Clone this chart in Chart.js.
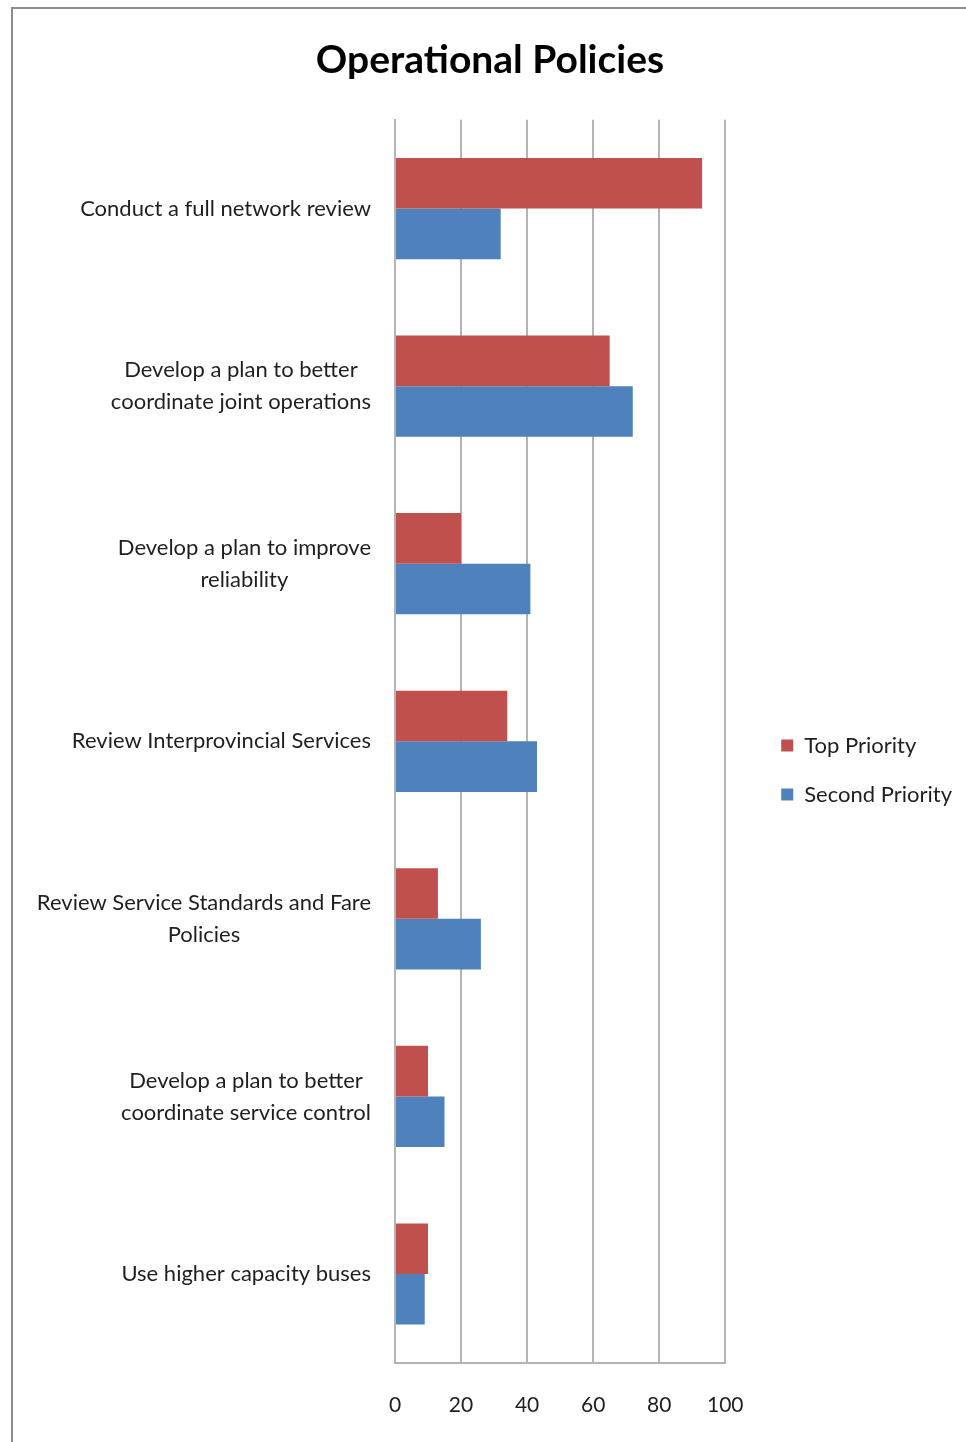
<!DOCTYPE html>
<html>
<head>
<meta charset="utf-8">
<title>Operational Policies</title>
<script src="https://cdn.jsdelivr.net/npm/chart.js@4/dist/chart.umd.min.js"></script>
<style>
  html, body { margin: 0; padding: 0; background: #ffffff; overflow: hidden; }
  #wrap { position: relative; width: 966px; height: 1442px; }
  #frame {
    position: absolute; left: 11px; top: 7px; width: 1000px; height: 1500px;
    border-left: 2px solid #8c8c8c; border-top: 2px solid #8c8c8c; box-sizing: border-box;
  }
  #chart { position: absolute; left: 0; top: 0; }
</style>
</head>
<body>
<div id="wrap">
  <div id="frame"></div>
  <canvas id="chart" width="966" height="1442"></canvas>
</div>
<script>
// Category labels (each entry is the list of lines shown for that row)
const categories = [
  ['Conduct a full network review'],
  ['Develop a plan to better', 'coordinate joint operations'],
  ['Develop a plan to improve', 'reliability'],
  ['Review Interprovincial Services'],
  ['Review Service Standards and Fare', 'Policies'],
  ['Develop a plan to better', 'coordinate service control'],
  ['Use higher capacity buses']
];
const seriesNames = ['Top Priority', 'Second Priority'];
const topPriority = [93, 65, 20, 34, 13, 10, 10];
const secondPriority = [32, 72, 41, 43, 26, 15, 9];
const xTicks = [0, 20, 40, 60, 80, 100];

const FONT = 'Lato, "Open Sans", "DejaVu Sans", sans-serif';
const TEXT = '#1f1f1f';
const GRID = '#b4b4b4';

// Category labels: each block right-aligned to the axis, its lines centred on one another
const blockLabels = {
  id: 'blockLabels',
  afterDraw(chart, args, opts) {
    const scale = chart.scales.y;
    const ctx = chart.ctx;
    ctx.save();
    ctx.font = opts.size + 'px ' + FONT;
    ctx.fillStyle = opts.color;
    ctx.textAlign = 'center';
    ctx.textBaseline = 'middle';
    scale.ticks.forEach((t, i) => {
      const lines = [].concat(chart.data.labels[i]);
      const w = Math.max(...lines.map(l => ctx.measureText(l).width));
      const cx = scale.right - opts.padding - w / 2;
      const cy = scale.getPixelForTick(i);
      lines.forEach((l, k) => {
        ctx.fillText(l, cx, cy + (k - (lines.length - 1) / 2) * opts.lineHeight);
      });
    });
    ctx.restore();
  }
};

// Moves the legend block beside the plot
const legendOffset = {
  id: 'legendOffset',
  afterLayout(chart, args, opts) {
    const lg = chart.legend;
    if (!lg) return;
    lg.left += opts.dx; lg.right += opts.dx;
    lg.top += opts.dy; lg.bottom += opts.dy;
  }
};

new Chart(document.getElementById('chart'), {
  type: 'bar',
  data: {
    labels: categories,
    datasets: [
      { label: seriesNames[0], data: topPriority, backgroundColor: '#C0504D' },
      { label: seriesNames[1], data: secondPriority, backgroundColor: '#4F81BD' }
    ]
  },
  options: {
    indexAxis: 'y',
    responsive: false,
    animation: false,
    devicePixelRatio: 1,
    categoryPercentage: 0.57,
    barPercentage: 1,
    layout: { padding: { left: 47, right: 33, top: 0, bottom: -6 } },
    scales: {
      x: {
        min: 0, max: 100,
        afterBuildTicks(scale) { scale.ticks = xTicks.map(v => ({ value: v })); },
        grid: { color: GRID, lineWidth: 2, drawTicks: false },
        border: { color: GRID, width: 2 },
        ticks: { color: TEXT, padding: 30, font: { family: FONT, size: 21 } }
      },
      y: {
        grid: { display: false, drawTicks: false },
        border: { color: GRID, width: 2 },
        ticks: { display: false },
        afterFit(scale) { scale.width = 348; }
      }
    },
    plugins: {
      title: {
        display: true,
        text: 'Operational Policies',
        color: '#000000',
        font: { family: FONT, size: 39, weight: 'bold' },
        padding: { top: 37, bottom: 36 }
      },
      legend: {
        position: 'right',
        labels: {
          color: TEXT,
          boxWidth: 12, boxHeight: 12,
          padding: 27,
          font: { family: FONT, size: 22 }
        }
      },
      tooltip: { enabled: false },
      blockLabels: { size: 22, color: TEXT, padding: 24, lineHeight: 32 },
      legendOffset: { dx: 29, dy: 46 }
    }
  },
  plugins: [blockLabels, legendOffset]
});
</script>
</body>
</html>
